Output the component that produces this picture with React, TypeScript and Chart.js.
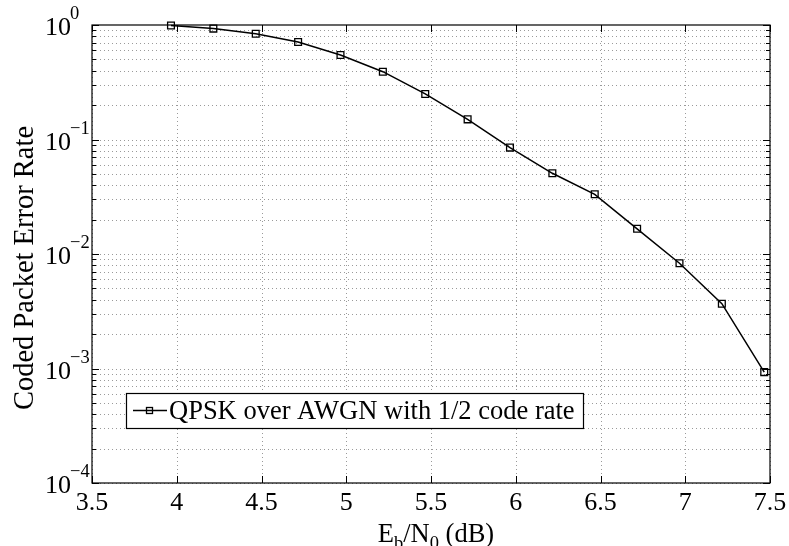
import React, { useEffect, useRef } from "react";
import { Chart, registerables } from "chart.js";

Chart.register(...registerables);

// ---- data ----
const ebn0: number[] = [3.966, 4.216, 4.466, 4.716, 4.966, 5.216, 5.466, 5.716, 5.966, 6.216, 6.466, 6.716, 6.966, 7.216, 7.466];
const packetErrorRate: number[] = [0.99, 0.93, 0.84, 0.71, 0.547, 0.391, 0.25, 0.15, 0.085, 0.0507, 0.0332, 0.0166, 0.0083, 0.00368, 0.00093];
const xTicks: number[] = [3.5, 4, 4.5, 5, 5.5, 6, 6.5, 7, 7.5];
const xTickLabels: string[] = ["3.5", "4", "4.5", "5", "5.5", "6", "6.5", "7", "7.5"];
const yDecades: number[] = [-4, -3, -2, -1, 0];
const yExponentLabels: string[] = ["\u22124", "\u22123", "\u22122", "\u22121", "0"];
const legendLabel = "QPSK over AWGN with 1/2 code rate";
const yTitle = "Coded Packet Error Rate";

const FONT = "'Liberation Serif', 'Times New Roman', serif";

const matlabPlugin = {
  id: "matlabStyle",
  beforeDatasetsDraw(chart: any) {
    const { ctx, chartArea: a, scales } = chart;
    const xs = scales.x, ys = scales.y;
    ctx.save();
    ctx.strokeStyle = "#9a9a9a";
    ctx.lineWidth = 1;
    ctx.setLineDash([1, 3]);
    // vertical major grid
    for (const v of xTicks) {
      const px = Math.round(xs.getPixelForValue(v)) + 0.5;
      ctx.beginPath();
      ctx.moveTo(px, a.top);
      ctx.lineTo(px, a.bottom);
      ctx.stroke();
    }
    // horizontal grid (major + minor)
    for (let i = 0; i < yDecades.length - 1; i++) {
      for (let m = 1; m <= 9; m++) {
        const v = m * Math.pow(10, yDecades[i]);
        const py = Math.round(ys.getPixelForValue(v)) + 0.5;
        ctx.beginPath();
        ctx.moveTo(a.left, py);
        ctx.lineTo(a.right, py);
        ctx.stroke();
      }
    }
    ctx.restore();
  },
  afterDatasetsDraw(chart: any) {
    const { ctx, chartArea: a, scales } = chart;
    const xs = scales.x, ys = scales.y;
    ctx.save();
    ctx.setLineDash([]);
    ctx.strokeStyle = "#000";
    ctx.lineWidth = 1.2;
    // box
    ctx.strokeRect(a.left, a.top, a.right - a.left, a.bottom - a.top);
    // x ticks (bottom + top)
    ctx.lineWidth = 1;
    for (const v of xTicks) {
      const px = Math.round(xs.getPixelForValue(v)) + 0.5;
      ctx.beginPath();
      ctx.moveTo(px, a.bottom);
      ctx.lineTo(px, a.bottom - 7);
      ctx.moveTo(px, a.top);
      ctx.lineTo(px, a.top + 7);
      ctx.stroke();
    }
    // y ticks (left + right), major and minor
    for (let i = 0; i < yDecades.length; i++) {
      const maxM = i === yDecades.length - 1 ? 1 : 9;
      for (let m = 1; m <= maxM; m++) {
        const v = m * Math.pow(10, yDecades[i]);
        const py = Math.round(ys.getPixelForValue(v)) + 0.5;
        const len = m === 1 ? 7 : 4;
        ctx.beginPath();
        ctx.moveTo(a.left, py);
        ctx.lineTo(a.left + len, py);
        ctx.moveTo(a.right, py);
        ctx.lineTo(a.right - len, py);
        ctx.stroke();
      }
    }
    // x tick labels
    ctx.fillStyle = "#000";
    ctx.font = `26px ${FONT}`;
    ctx.textAlign = "center";
    ctx.textBaseline = "alphabetic";
    xTicks.forEach((v, i) => {
      const px = xs.getPixelForValue(v);
      ctx.fillText(xTickLabels[i], px, a.bottom + 27);
    });
    // y tick labels 10^k
    ctx.textAlign = "left";
    yDecades.forEach((k, i) => {
      const py = ys.getPixelForValue(Math.pow(10, k));
      ctx.font = `26px ${FONT}`;
      const baseX = 45;
      ctx.fillText("10", baseX, py + 10);
      const w = ctx.measureText("10").width;
      ctx.font = `18.5px ${FONT}`;
      ctx.fillText(yExponentLabels[i], baseX + w - 1, py - 6);
    });
    // y title
    ctx.save();
    ctx.translate(33, 268);
    ctx.rotate(-Math.PI / 2);
    ctx.font = `28.5px ${FONT}`;
    ctx.textAlign = "center";
    ctx.fillText(yTitle, 0, 0);
    ctx.restore();
    // x title E_b/N_0 (dB)
    const parts: [string, number, number][] = [
      ["E", 26.5, 0],
      ["b", 18.5, 7],
      ["/N", 26.5, 0],
      ["0", 18.5, 7],
      [" (dB)", 26.5, 0],
    ];
    let total = 0;
    for (const [t, s] of parts) {
      ctx.font = `${s}px ${FONT}`;
      total += ctx.measureText(t).width;
    }
    let cx = 436 - total / 2;
    const baseY = a.bottom + 59;
    for (const [t, s, dy] of parts) {
      ctx.font = `${s}px ${FONT}`;
      ctx.fillText(t, cx, baseY + dy);
      cx += ctx.measureText(t).width;
    }
    // legend
    const lx = 126, ly = 393, lw = 457, lh = 35;
    ctx.fillStyle = "#fff";
    ctx.fillRect(lx, ly, lw, lh);
    ctx.strokeStyle = "#000";
    ctx.lineWidth = 1.2;
    ctx.strokeRect(lx + 0.5, ly + 0.5, lw, lh);
    ctx.lineWidth = 1.5;
    ctx.beginPath();
    ctx.moveTo(133, 410.5);
    ctx.lineTo(167, 410.5);
    ctx.stroke();
    ctx.lineWidth = 1.3;
    ctx.strokeRect(146.5, 407.5, 6, 6);
    ctx.fillStyle = "#000";
    ctx.font = `26.5px ${FONT}`;
    ctx.textAlign = "left";
    ctx.fillText(legendLabel, 169, 419);
    ctx.restore();
  },
};

export default function App() {
  const ref = useRef<HTMLCanvasElement | null>(null);
  useEffect(() => {
    if (!ref.current) return;
    const chart = new Chart(ref.current, {
      type: "line",
      data: {
        datasets: [
          {
            label: legendLabel,
            data: ebn0.map((x, i) => ({ x, y: packetErrorRate[i] })),
            borderColor: "#000",
            borderWidth: 1.5,
            pointStyle: "rect",
            pointRadius: 4.8,
            pointBorderWidth: 1.3,
            pointBackgroundColor: "rgba(0,0,0,0)",
            pointBorderColor: "#000",
            tension: 0,
            clip: false as any,
          },
        ],
      },
      options: {
        responsive: false,
        animation: false,
        events: [],
        layout: { padding: { left: 92, top: 25, right: 19, bottom: 63 } },
        plugins: { legend: { display: false }, tooltip: { enabled: false }, title: { display: false } },
        scales: {
          x: { type: "linear", min: 3.5, max: 7.5, display: false },
          y: { type: "logarithmic", min: 1e-4, max: 1, display: false },
        },
      },
      plugins: [matlabPlugin],
    });
    return () => chart.destroy();
  }, []);
  return (
    <div style={{ position: "fixed", left: 0, top: 0, width: 789, height: 546, background: "#fff" }}>
      <canvas ref={ref} width={789} height={546} style={{ display: "block" }} />
    </div>
  );
}
